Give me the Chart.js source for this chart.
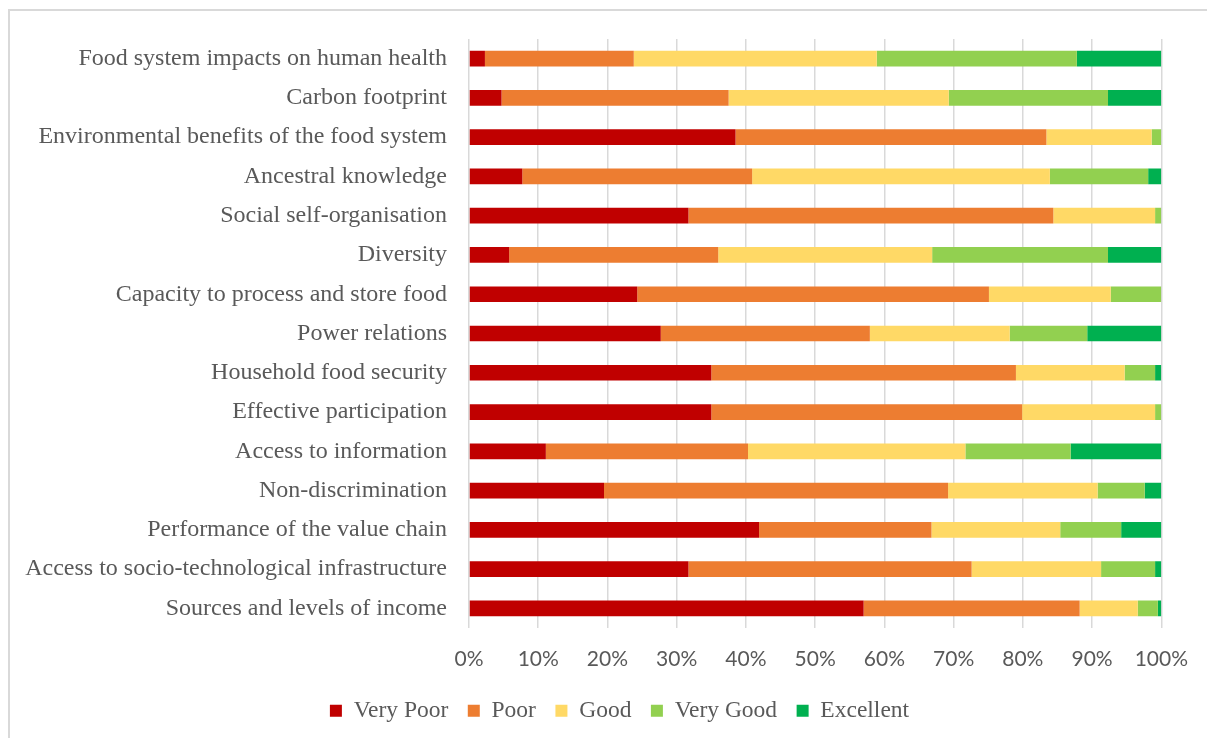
<!DOCTYPE html>
<html>
<head>
<meta charset="utf-8">
<script src="https://cdn.jsdelivr.net/npm/chart.js@4/dist/chart.umd.min.js"></script>
<style>
  html, body { margin: 0; padding: 0; background: #fff; overflow: hidden; }
  #frame { position: absolute; left: 8px; top: 9px; width: 1300px; height: 800px; border: 2px solid #d9d9d9; box-sizing: border-box; }
  #wrap { position: absolute; left: 0; top: 0; width: 1207px; height: 738px; }
</style>
</head>
<body>
<div id="frame"></div>
<div id="wrap"><canvas id="c" width="1207" height="738"></canvas></div>
<script>
const categories = [
  "Food system impacts on human health",
  "Carbon footprint",
  "Environmental benefits of the food system",
  "Ancestral knowledge",
  "Social self-organisation",
  "Diversity",
  "Capacity to process and store food",
  "Power relations",
  "Household food security",
  "Effective participation",
  "Access to information",
  "Non-discrimination",
  "Performance of the value chain",
  "Access to socio-technological infrastructure",
  "Sources and levels of income"
];
const seriesNames = ["Very Poor", "Poor", "Good", "Very Good", "Excellent"];
const veryPoor  = [2.3, 4.7, 38.5, 7.7, 31.7, 5.8, 24.3, 27.7, 35.0, 35.0, 11.1, 19.5, 41.9, 31.7, 57.0];
const poor      = [21.5, 32.8, 44.9, 33.2, 52.7, 30.2, 50.8, 30.2, 44.0, 44.9, 29.2, 49.7, 24.9, 40.9, 31.2];
const good      = [35.1, 31.8, 15.2, 43.0, 14.7, 30.9, 17.6, 20.2, 15.7, 19.2, 31.4, 21.6, 18.6, 18.7, 8.4];
const veryGood  = [28.9, 23.0, 1.4, 14.2, 0.9, 25.4, 7.3, 11.2, 4.4, 0.9, 15.2, 6.8, 8.8, 7.8, 2.9];
const excellent = [12.2, 7.7, 0, 1.9, 0, 7.7, 0, 10.7, 0.9, 0, 13.1, 2.4, 5.8, 0.9, 0.5];
const xTickValues = [0, 10, 20, 30, 40, 50, 60, 70, 80, 90, 100];

const colors = ["#C00000", "#ED7D31", "#FFD966", "#92D050", "#00B050"];
const values = [veryPoor, poor, good, veryGood, excellent];

const datasets = seriesNames.map((name, i) => ({
  label: name,
  data: values[i],
  backgroundColor: colors[i],
  borderWidth: 0,
  barPercentage: 0.4,
  categoryPercentage: 1.0
}));

const legendShift = {
  id: 'legendShift',
  afterLayout(chart) {
    if (chart.legend) { chart.legend.left += 76; }
  }
};

new Chart(document.getElementById('c'), {
  type: 'bar',
  data: { labels: categories, datasets },
  plugins: [legendShift],
  options: {
    indexAxis: 'y',
    responsive: false,
    animation: false,
    layout: { padding: { top: 39, right: 44, bottom: 5.5, left: 0 } },
    scales: {
      x: {
        stacked: true,
        min: 0,
        max: 100,
        afterBuildTicks: (scale) => { scale.ticks = xTickValues.map(v => ({ value: v })); },
        afterFit: (scale) => { scale.height = 51.5; },
        ticks: {
          callback: (v) => v + '%',
          color: '#595959',
          font: { family: 'Lato', size: 21 },
          padding: 19,
          maxRotation: 0
        },
        grid: { color: '#d9d9d9', lineWidth: 1.5, drawTicks: false },
        border: { display: false }
      },
      y: {
        stacked: true,
        afterFit: (scale) => { scale.width = 469; },
        ticks: {
          color: '#595959',
          font: { family: 'Liberation Serif', size: 24 },
          padding: 22
        },
        grid: { display: false, drawTicks: false },
        border: { display: false }
      }
    },
    plugins: {
      legend: {
        position: 'bottom',
        labels: {
          color: '#595959',
          font: { family: 'Liberation Serif', size: 23.5, lineHeight: 1.0 },
          boxWidth: 12,
          boxHeight: 12,
          padding: 19.5
        }
      },
      tooltip: { enabled: false }
    }
  }
});
</script>
</body>
</html>
